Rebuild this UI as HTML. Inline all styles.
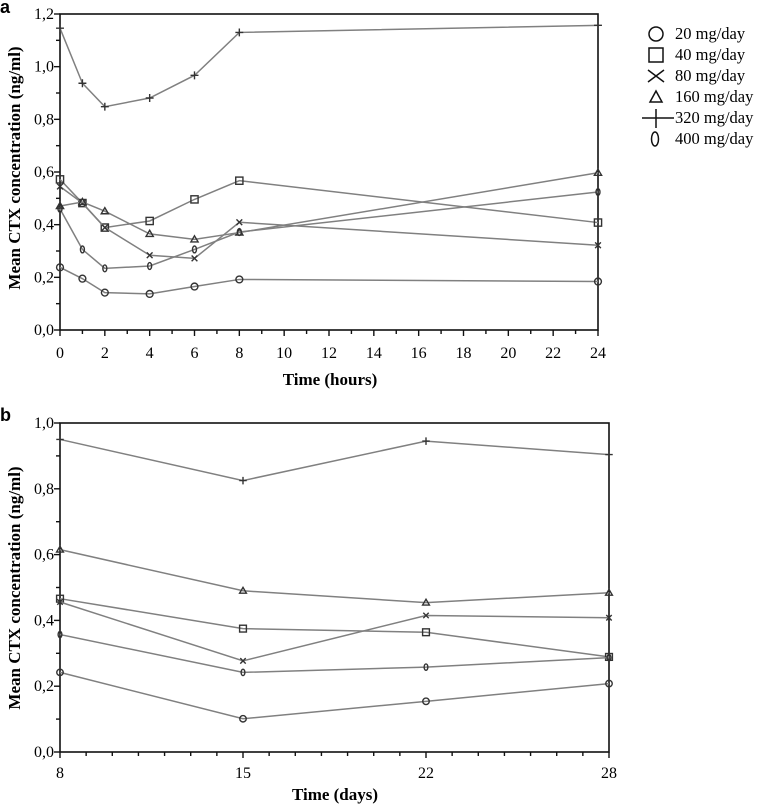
<!DOCTYPE html>
<html><head><meta charset="utf-8"><style>
body{margin:0;background:#fff;}
svg{display:block;font-family:"Liberation Serif",serif;}
</style></head><body>
<svg id="chart" width="761" height="804" viewBox="0 0 761 804" xmlns="http://www.w3.org/2000/svg"></svg>
<script>
const seriesNames = ["20 mg/day","40 mg/day","80 mg/day","160 mg/day","320 mg/day","400 mg/day"];
const markerTypes = ["circle","square","x","triangle","plus","oval"];
const hoursA = [0,1,2,4,6,8,24];
const a20 = [0.238,0.195,0.142,0.137,0.165,0.192,0.184];
const a40 = [0.572,0.482,0.389,0.414,0.496,0.567,0.408];
const a80 = [0.545,0.482,0.389,0.284,0.272,0.409,0.322];
const a160 = [0.471,0.486,0.451,0.365,0.344,0.370,0.597];
const a320 = [1.146,0.937,0.848,0.881,0.967,1.130,1.157];
const a400 = [0.460,0.306,0.234,0.243,0.306,0.372,0.524];
const daysB = ["8","15","22","28"];
const b20 = [0.242,0.101,0.154,0.208];
const b40 = [0.466,0.375,0.364,0.289];
const b80 = [0.456,0.277,0.415,0.408];
const b160 = [0.615,0.490,0.454,0.484];
const b320 = [0.950,0.825,0.945,0.904];
const b400 = [0.357,0.242,0.258,0.287];
const xTicksA = ["0","2","4","6","8","10","12","14","16","18","20","22","24"];
const yTicksA = ["0,0","0,2","0,4","0,6","0,8","1,0","1,2"];
const yTicksB = ["0,0","0,2","0,4","0,6","0,8","1,0"];

const NS="http://www.w3.org/2000/svg";
const svg=document.getElementById('chart');
function mk(tag,attrs,parent){const e=document.createElementNS(NS,tag);for(const k in attrs)e.setAttribute(k,attrs[k]);(parent||svg).appendChild(e);return e;}
const LC="#808080", MC="#333";

function marker(g,type,x,y,s){
  const st={fill:"none",stroke:MC,"stroke-width":1.4};
  let e;
  if(type==="circle"){e=mk('circle',Object.assign({cx:x,cy:y,r:s*0.95},st),g);}
  else if(type==="square"){e=mk('rect',Object.assign({x:x-s,y:y-s,width:2*s,height:2*s},st),g);}
  else if(type==="x"){e=mk('path',Object.assign({d:`M${x-s*0.8},${y-s*0.8}L${x+s*0.8},${y+s*0.8}M${x-s*0.8},${y+s*0.8}L${x+s*0.8},${y-s*0.8}`},st),g);}
  else if(type==="triangle"){e=mk('path',Object.assign({d:`M${x},${y-s}L${x+s},${y+s*0.7}L${x-s},${y+s*0.7}Z`},st),g);}
  else if(type==="plus"){e=mk('path',Object.assign({d:`M${x-s*1.1},${y}L${x+s*1.1},${y}M${x},${y-s*1.1}L${x},${y+s*1.1}`},st),g);}
  else {e=mk('ellipse',Object.assign({cx:x,cy:y,rx:s*0.55,ry:s*0.95},st),g);}
  return e;
}

// Panel A
const A={x0:60,x1:598,y0:330,y1:14,xmax:24,ymax:1.2};
const axA=v=>A.x0+(v/A.xmax)*(A.x1-A.x0);
const ayA=v=>A.y0-(v/A.ymax)*(A.y0-A.y1);
const gA=mk('g',{});


let t=mk('text',{x:0,y:13,"font-family":"Liberation Sans,sans-serif","font-weight":"bold","font-size":18},gA);t.textContent="a";

const frameA=mk('rect',{x:A.x0,y:A.y1,width:A.x1-A.x0,height:A.y0-A.y1,fill:"none",stroke:"#111","stroke-width":1.6},gA);

for(let h=0;h<=24;h++){const x=axA(h);mk('line',{x1:x,y1:A.y0,x2:x,y2:A.y0+(h%2===0?6:4),stroke:"#111","stroke-width":1.4},gA);}
xTicksA.forEach(l=>{const e=mk('text',{x:axA(+l),y:358,"text-anchor":"middle","font-size":16},gA);e.textContent=l;
});
for(let i=0;i<=12;i++){const y=ayA(i*0.1);mk('line',{x1:A.x0-(i%2===0?6:4),y1:y,x2:A.x0,y2:y,stroke:"#111","stroke-width":1.4},gA);}
yTicksA.forEach(l=>{const v=parseFloat(l.replace(',','.'));const e=mk('text',{x:A.x0-6,y:ayA(v)+5,"text-anchor":"end","font-size":16},gA);e.textContent=l;
});
t=mk('text',{x:330,y:385,"text-anchor":"middle","font-size":17,"font-weight":"bold"},gA);t.textContent="Time (hours)";

t=mk('text',{x:0,y:0,transform:"translate(20,168) rotate(-90)","text-anchor":"middle","font-size":17,"font-weight":"bold"},gA);t.textContent="Mean CTX concentration (ng/ml)";

const seriesA=[a20,a40,a80,a160,a320,a400];
seriesA.forEach((vals,si)=>{
  const g=mk('g',{},gA);
  
  
  const pts=vals.map((v,i)=>axA(hoursA[i])+","+ayA(v)).join(" ");
  mk('polyline',{points:pts,fill:"none",stroke:LC,"stroke-width":1.5},g);
  vals.forEach((v,i)=>{const m=marker(g,markerTypes[si],axA(hoursA[i]),ayA(v),3.6);
    });
});

// Legend
const lg=mk('g',{});


seriesNames.forEach((n,i)=>{
  const y=34+i*21;
  const g=mk('g',{},lg);
  
  
  const ty=markerTypes[i];
  if(ty==="circle")mk('circle',{cx:656,cy:y,r:7,fill:"none",stroke:"#111","stroke-width":1.5},g);
  else if(ty==="square")mk('rect',{x:649,y:y-7,width:14,height:14,fill:"none",stroke:"#111","stroke-width":1.5},g);
  else if(ty==="x")mk('path',{d:`M648,${y-6}L664,${y+6}M648,${y+6}L664,${y-6}`,fill:"none",stroke:"#111","stroke-width":1.5},g);
  else if(ty==="triangle")mk('path',{d:`M656,${y-6}L662,${y+5}L650,${y+5}Z`,fill:"none",stroke:"#111","stroke-width":1.5},g);
  else if(ty==="plus")mk('path',{d:`M642,${y}L674,${y}M656,${y-9}L656,${y+10}`,fill:"none",stroke:"#111","stroke-width":1.5},g);
  else mk('ellipse',{cx:655,cy:y,rx:3.5,ry:7,fill:"none",stroke:"#111","stroke-width":1.5},g);
  const e=mk('text',{x:675,y:y+5,"font-size":16.5},g);e.textContent=n;
});

// Panel B
const B={x0:60,x1:609,y0:752,y1:423,ymax:1.0};
const axB=i=>B.x0+i*(B.x1-B.x0)/(daysB.length-1);
const ayB=v=>B.y0-(v/B.ymax)*(B.y0-B.y1);
const gB=mk('g',{});


t=mk('text',{x:0,y:421,"font-family":"Liberation Sans,sans-serif","font-weight":"bold","font-size":18},gB);t.textContent="b";

const frameB=mk('rect',{x:B.x0,y:B.y1,width:B.x1-B.x0,height:B.y0-B.y1,fill:"none",stroke:"#111","stroke-width":1.6},gB);

const segs=daysB.length-1, nMinor=7;
for(let k=0;k<=segs*nMinor;k++){const x=B.x0+k*(B.x1-B.x0)/(segs*nMinor);mk('line',{x1:x,y1:B.y0,x2:x,y2:B.y0+(k%nMinor===0?6:4),stroke:"#111","stroke-width":1.4},gB);}
daysB.forEach((l,i)=>{const e=mk('text',{x:axB(i),y:778,"text-anchor":"middle","font-size":16},gB);e.textContent=l;
});
for(let i=0;i<=10;i++){const y=ayB(i*0.1);mk('line',{x1:B.x0-(i%2===0?6:4),y1:y,x2:B.x0,y2:y,stroke:"#111","stroke-width":1.4},gB);}
yTicksB.forEach(l=>{const v=parseFloat(l.replace(',','.'));const e=mk('text',{x:B.x0-6,y:ayB(v)+5,"text-anchor":"end","font-size":16},gB);e.textContent=l;
});
t=mk('text',{x:335,y:800,"text-anchor":"middle","font-size":17,"font-weight":"bold"},gB);t.textContent="Time (days)";

t=mk('text',{x:0,y:0,transform:"translate(20,588) rotate(-90)","text-anchor":"middle","font-size":17,"font-weight":"bold"},gB);t.textContent="Mean CTX concentration (ng/ml)";

const seriesB=[b20,b40,b80,b160,b320,b400];
seriesB.forEach((vals,si)=>{
  const g=mk('g',{},gB);
  
  
  const pts=vals.map((v,i)=>axB(i)+","+ayB(v)).join(" ");
  mk('polyline',{points:pts,fill:"none",stroke:LC,"stroke-width":1.5},g);
  vals.forEach((v,i)=>{const m=marker(g,markerTypes[si],axB(i),ayB(v),3.4);
    });
});
</script>
</body></html>
